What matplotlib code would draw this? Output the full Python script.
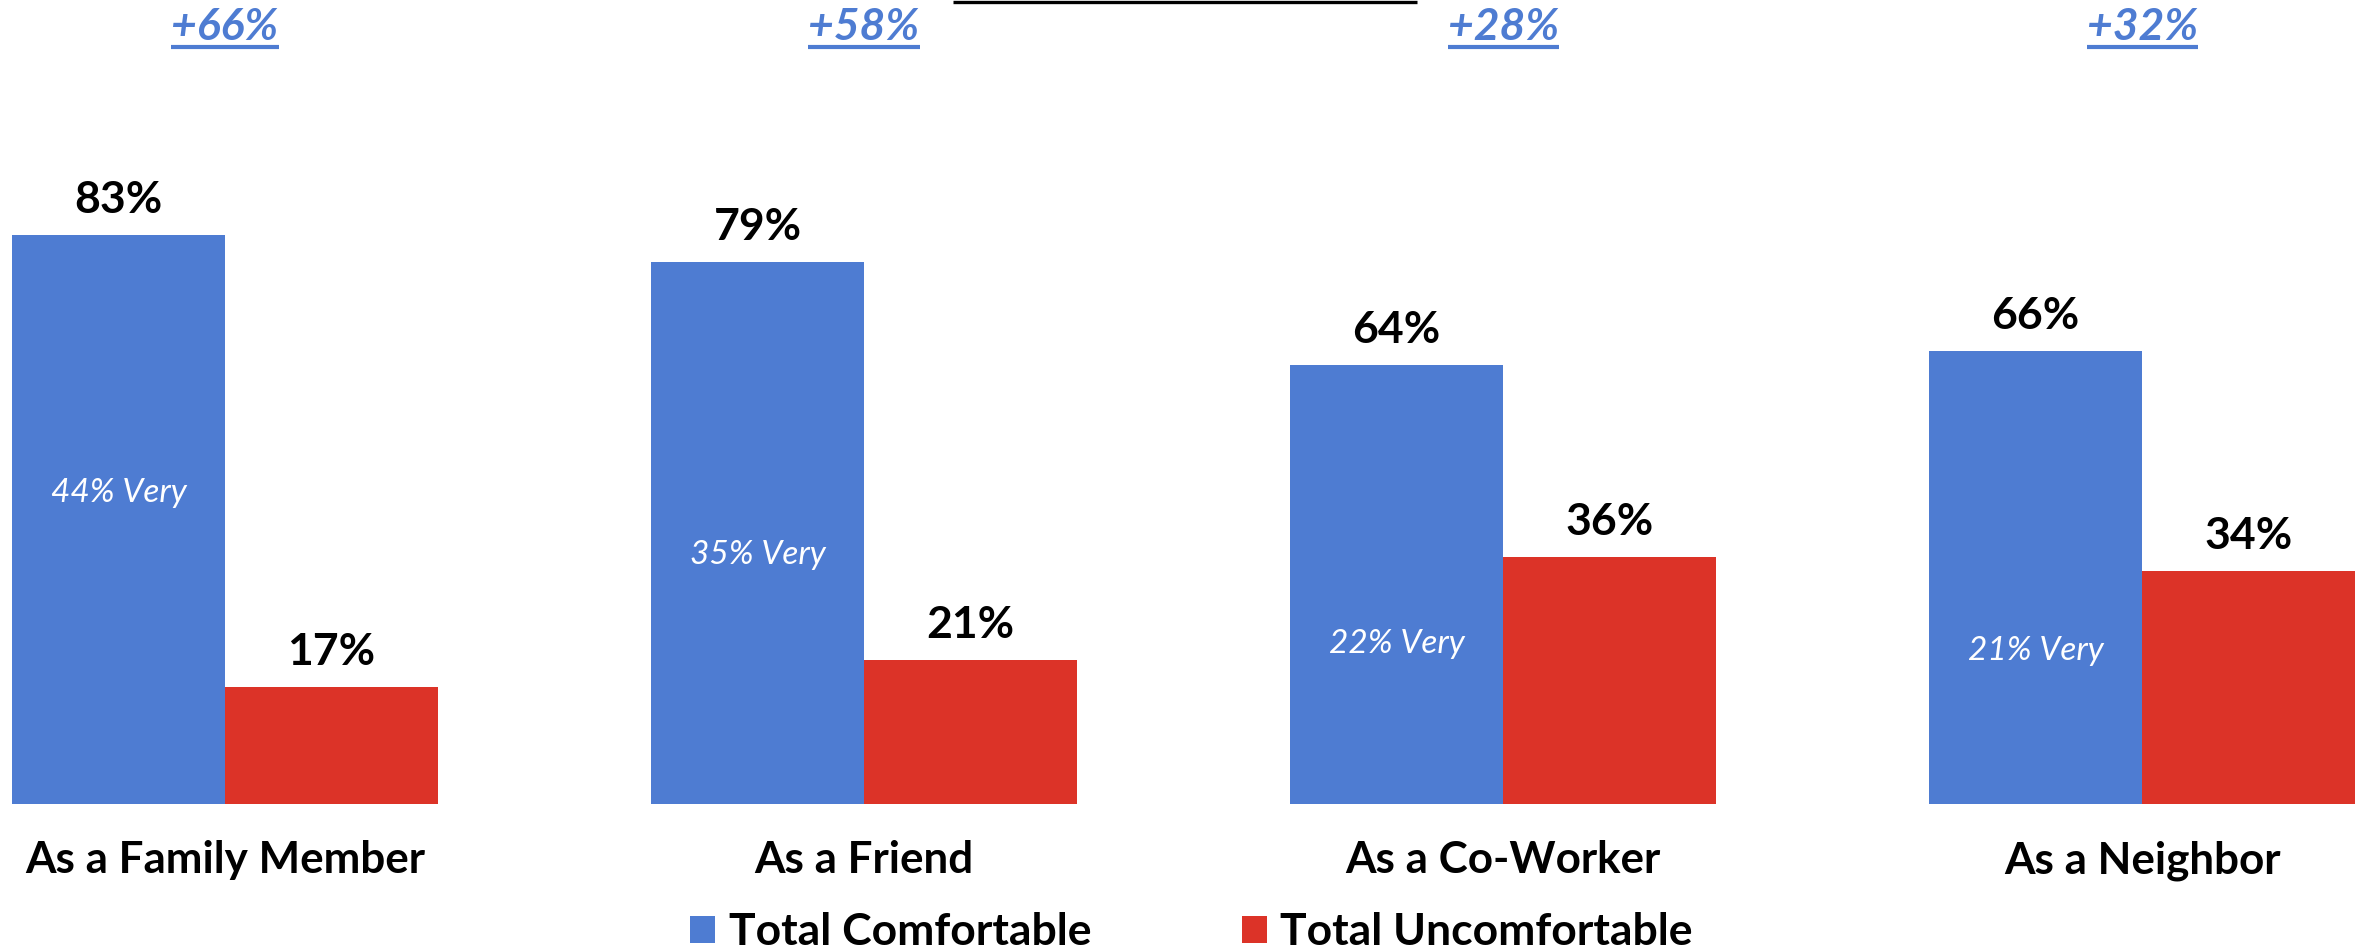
import matplotlib
matplotlib.use("Agg")
import matplotlib.pyplot as plt
from matplotlib.patches import Patch
from matplotlib.lines import Line2D
import numpy as np

categories = ["As a Family Member", "As a Friend", "As a Co-Worker", "As a Neighbor"]
comfortable = [83, 79, 64, 66]
uncomfortable = [17, 21, 36, 34]
very_comfortable = [44, 35, 22, 21]
net_diff = ["+66%", "+58%", "+28%", "+32%"]
series_names = ["Total Comfortable", "Total Uncomfortable"]

BLUE = "#4E7CD2"
RED = "#DC3328"
FONT = "Lato"

W, H = 2369, 952
fig = plt.figure(figsize=(W / 100, H / 100), dpi=100)
ax = fig.add_axes([0, (952 - 804) / 952, 1, 804 / 952])

x = np.arange(len(categories))
bw = 0.333
ax.bar(x - bw / 2, comfortable, bw, color=BLUE, label=series_names[0])
ax.bar(x + bw / 2, uncomfortable, bw, color=RED, label=series_names[1])

ax.set_xlim(-0.352, 3.355)
ax.set_ylim(0, 117.2)
ax.axis("off")

for i in range(len(categories)):
    ax.annotate(f"{comfortable[i]}%", (x[i] - bw / 2, comfortable[i]), xytext=(0, 15.8),
                textcoords="offset points", ha="center", va="baseline",
                fontsize=32, fontweight="bold", family=FONT, color="black")
    ax.annotate(f"{uncomfortable[i]}%", (x[i] + bw / 2, uncomfortable[i]), xytext=(0, 15.8),
                textcoords="offset points", ha="center", va="baseline",
                fontsize=32, fontweight="bold", family=FONT, color="black")
    ax.text(x[i] - bw / 2, very_comfortable[i], f"{very_comfortable[i]}% Very",
            ha="center", va="baseline", fontsize=24, style="italic",
            family=FONT, color="white")
    ax.annotate(categories[i], (x[i], 0), xytext=(0, -49.7), textcoords="offset points",
                ha="center", va="baseline", fontsize=31.7, fontweight="bold",
                family=FONT, color="black")

net_texts = []
for i in range(len(categories)):
    t = ax.text(x[i], 111.4, net_diff[i], ha="center", va="baseline", fontsize=32,
                fontweight="bold", style="italic", family=FONT, color=BLUE)
    net_texts.append(t)

handles = [Patch(facecolor=BLUE, edgecolor="none"), Patch(facecolor=RED, edgecolor="none")]
leg = fig.legend(handles, series_names, loc="center", bbox_to_anchor=(0.503, 1 - 932 / 952),
                 ncol=2, frameon=False, prop={"family": FONT, "weight": "bold", "size": 32},
                 handlelength=0.56, handleheight=0.56, handletextpad=0.3, columnspacing=3.4,
                 borderpad=0, borderaxespad=0)

# underline the net difference labels
fig.canvas.draw()
renderer = fig.canvas.get_renderer()
for t in net_texts:
    bb = t.get_window_extent(renderer)
    yl = 952 - 47
    fig.add_artist(Line2D([bb.x0 / W, bb.x1 / W], [yl / H, yl / H], transform=fig.transFigure,
                          color=BLUE, lw=3.0, solid_capstyle="butt"))

# top border fragment
fig.add_artist(Line2D([953 / W, 1417 / W], [1 - 1.5 / H, 1 - 1.5 / H], transform=fig.transFigure,
                      color="black", lw=2.4, solid_capstyle="butt"))

fig.savefig("out.png", dpi=100, facecolor="white")
